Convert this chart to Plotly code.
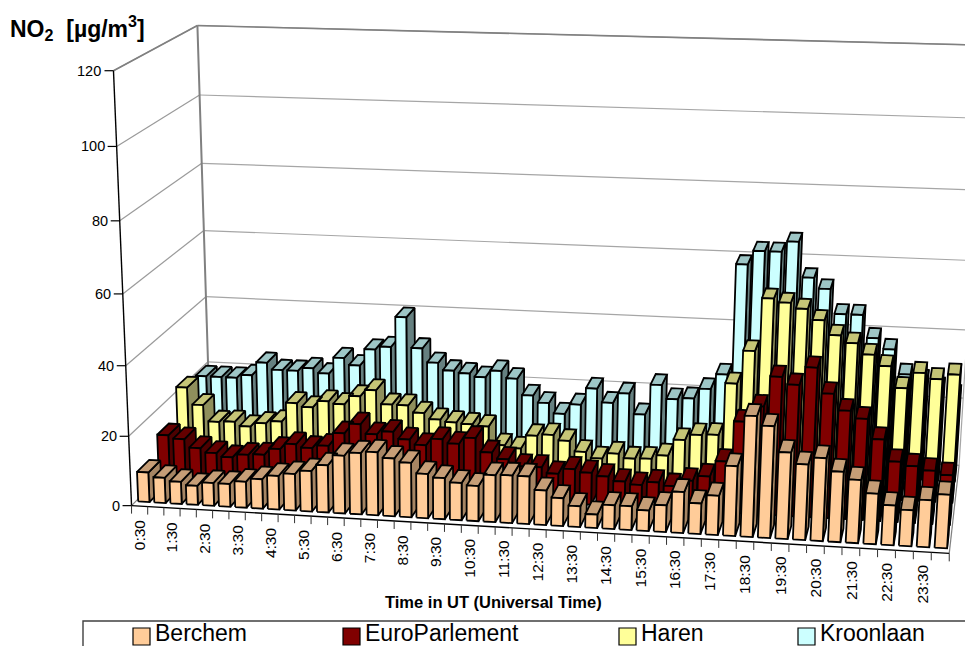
import numpy as np
import plotly.graph_objects as go

series_names = ["Berchem", "EuroParlement", "Haren", "Kroonlaan"]
tick_labels = [f"{h}:30" for h in range(24)]
y_ticks = [0, 20, 40, 60, 80, 100, 120]

berchem = [8.6, 7.3, 6.4, 5.5, 6.6, 6.6, 7.5, 8.5, 9.7, 10.5, 11.6, 13.5, 16.5, 17.5, 18, 16.5,
           15.5, 12.6, 11.7, 10.6, 10, 13.3, 13.5, 13.5, 9.8, 7.9, 5.9, 3.8, 6.7, 6.7, 5.8, 7.5,
           11.5, 8.6, 11, 19.5, 33.5, 31, 24, 21, 23, 19.5, 17.5, 14, 11, 10, 13, 14.8]
europarlement = [13.5, 12.6, 10.2, 9, 8, 9, 9.3, 11.2, 12.9, 12, 12.9, 16.8, 19.7, 17, 18, 16,
                 14.6, 16.6, 15.5, 17.4, 13.5, 11.8, 10, 10, 8.4, 10, 9.2, 8.4, 7.2, 6.5, 7.5, 6.7,
                 8.5, 10, 14.5, 26, 30.5, 39, 37, 42, 35, 30.5, 28.5, 23, 17, 16, 15, 14]
haren = [22, 17, 12.2, 12.5, 11.3, 12.5, 13.3, 19, 18, 20, 19.4, 22, 24, 20, 20, 18,
         16.3, 15.7, 15.4, 15, 9.7, 9, 13, 13.5, 12, 9, 7.3, 9, 7.8, 8, 9.2, 14,
         15.7, 16, 31, 40.5, 55.5, 54.5, 53, 50, 46, 44, 41, 38, 32, 36.5, 35, 36.5]
kroonlaan = [20, 20, 20, 21, 25, 23, 23, 24, 22.6, 27.5, 25.5, 30.5, 31.5, 40.5, 31.5, 27.4,
             25.3, 24.7, 23.8, 25.9, 23.8, 19, 17, 14, 17, 22, 18, 21, 15, 24, 20, 20.5,
             23.5, 28, 60, 64, 64, 67, 57, 54, 47, 47, 40.5, 37.5, 30.5, 29, 27, 25]
all_values = [berchem, europarlement, haren, kroonlaan]

front_colors = ["#FFCC99", "#800000", "#FFFF99", "#CCFFFF"]
top_colors = ["#C69E77", "#630000", "#C6C677", "#9EC6C6"]
side_colors = ["#A68563", "#4D0000", "#8F8F5C", "#668080"]

W, H = 965, 646

# perspective view of the chart box: fitted from the box's visible corners
box_world = [(0, 0, 0), (48, 0, 0), (0, 4, 0), (0, 0, 120), (0, 4, 120), (48, 4, 0),
             (0, 0, 20), (0, 4, 20), (48, 4, 60)]
box_screen = [(132, 506), (950, 552), (211, 427), (114, 72), (197, 25), (958, 467),
              (127, 436), (208, 360), (972, 260)]
rows = []
rhs = []
for (a, b, c), (sx, sy) in zip(box_world, box_screen):
    rows.append([a, b, c, 1, 0, 0, 0, 0, -sx * a, -sx * b, -sx * c])
    rhs.append(sx)
    rows.append([0, 0, 0, 0, a, b, c, 1, -sy * a, -sy * b, -sy * c])
    rhs.append(sy)
m = np.linalg.lstsq(np.array(rows, float), np.array(rhs, float), rcond=None)[0]
P = np.append(m, 1).reshape(3, 4)


def project(u, v, z):
    q = P @ np.array([u, v, z, 1.0])
    return q[0] / q[2], q[1] / q[2]


def poly_trace(polys, color, name=None, lw=1.8):
    xs, ys = [], []
    for poly in polys:
        pts = [project(*p) for p in poly]
        pts.append(pts[0])
        xs += [p[0] for p in pts] + [None]
        ys += [p[1] for p in pts] + [None]
    return go.Scatter(x=xs, y=ys, mode="lines", fill="toself", fillcolor=color,
                      line=dict(color="#000000", width=lw), name=name, showlegend=False,
                      hoverinfo="skip" if name is None else None)


def line_trace(a, b, color, width):
    pa, pb = project(*a), project(*b)
    return go.Scatter(x=[pa[0], pb[0]], y=[pa[1], pb[1]], mode="lines",
                      line=dict(color=color, width=width), showlegend=False, hoverinfo="skip")


fig = go.Figure()

# walls
for z in y_ticks[1:]:
    fig.add_trace(line_trace((0, 0, z), (0, 4, z), "#9A9A9A", 1.2))
    fig.add_trace(line_trace((0, 4, z), (48, 4, z), "#A6A6A6", 1.2))
fig.add_trace(line_trace((0, 0, 120), (0, 4, 120), "#808080", 1.6))
fig.add_trace(line_trace((0, 4, 120), (48, 4, 120), "#808080", 1.6))
fig.add_trace(line_trace((0, 4, 0), (0, 4, 120), "#808080", 2))
fig.add_trace(line_trace((48, 4, 0), (48, 4, 120), "#A6A6A6", 1.2))
fig.add_trace(line_trace((0, 0, 0), (0, 4, 0), "#808080", 1.2))
fig.add_trace(line_trace((0, 4, 0), (48, 4, 0), "#808080", 1.2))
fig.add_trace(line_trace((48, 0, 0), (48, 4, 0), "#808080", 1.2))

# bars, rear row first
U0, U1 = 0.15, 0.85
V0, V1 = 0.2, 0.78
for r in range(3, -1, -1):
    vals = all_values[r]
    sides, tops, fronts = [], [], []
    for i, val in enumerate(vals):
        a, b = i + U0, i + U1
        c, d = r + V0, r + V1
        sides.append([(b, c, 0), (b, d, 0), (b, d, val), (b, c, val)])
        tops.append([(a, c, val), (b, c, val), (b, d, val), (a, d, val)])
        fronts.append([(a, c, 0), (b, c, 0), (b, c, val), (a, c, val)])
    fig.add_trace(poly_trace(sides, side_colors[r]))
    fig.add_trace(poly_trace(tops, top_colors[r]))
    fig.add_trace(poly_trace(fronts, front_colors[r], name=series_names[r]))

# front axes
fig.add_trace(line_trace((0, 0, 0), (0, 0, 120), "#000000", 1.4))
fig.add_trace(line_trace((0, 0, 0), (48, 0, 0), "#000000", 1.4))

annotations = []
shapes = []
for z in y_ticks:
    x, y = project(0, 0, z)
    shapes.append(dict(type="line", x0=x - 9, x1=x, y0=y, y1=y,
                       line=dict(color="#000000", width=1.2), xref="x", yref="y"))
    annotations.append(dict(x=x - 10, y=y, text=str(z), showarrow=False, xanchor="right",
                            yanchor="middle", font=dict(size=14.5, color="#000000")))
for i in range(49):
    x, y = project(i, 0, 0)
    shapes.append(dict(type="line", x0=x, x1=x, y0=y, y1=y + 8,
                       line=dict(color="#333333", width=1), xref="x", yref="y"))
for k, lab in enumerate(tick_labels):
    x, y = project(2 * k + 0.5, 0, 0)
    annotations.append(dict(x=x, y=y + 11, text=lab, showarrow=False, textangle=-90,
                            xanchor="center", yanchor="top", font=dict(size=15.5, color="#000000")))

annotations.append(dict(x=493, y=602, text="<b>Time in UT (Universal Time)</b>", showarrow=False,
                        xanchor="center", yanchor="middle", font=dict(size=16.5, color="#000000")))
annotations.append(dict(x=8, y=28, text="<b>NO<sub>2</sub>  [µg/m<sup>3</sup>]</b>", showarrow=False,
                        xanchor="left", yanchor="middle", font=dict(size=23, color="#000000")))

# legend strip, cut by the lower edge of the picture
shapes.append(dict(type="rect", x0=83, x1=980, y0=621, y1=670, line=dict(color="#404040", width=1.4),
                   fillcolor="#FFFFFF", xref="x", yref="y"))
legend_x = [133, 343, 619, 798]
for name, color, lx in zip(series_names, front_colors, legend_x):
    shapes.append(dict(type="rect", x0=lx, x1=lx + 17, y0=628, y1=645, fillcolor=color,
                       line=dict(color="#000000", width=1.2), xref="x", yref="y"))
    annotations.append(dict(x=lx + 20, y=633, text=name, showarrow=False, xanchor="left",
                            yanchor="middle", font=dict(size=23, color="#000000")))

fig.update_layout(
    width=W, height=H, margin=dict(l=0, r=0, t=0, b=0), autosize=False,
    paper_bgcolor="#FFFFFF", plot_bgcolor="#FFFFFF",
    font=dict(family="Liberation Sans, Arial, sans-serif", color="#000000"),
    xaxis=dict(range=[0, W], visible=False, fixedrange=True),
    yaxis=dict(range=[H, 0], visible=False, fixedrange=True),
    showlegend=False, annotations=annotations, shapes=shapes,
)
fig.write_html("out.html", config=dict(displayModeBar=False),
               post_script="document.body.style.margin='0';document.body.style.overflow='hidden';")
